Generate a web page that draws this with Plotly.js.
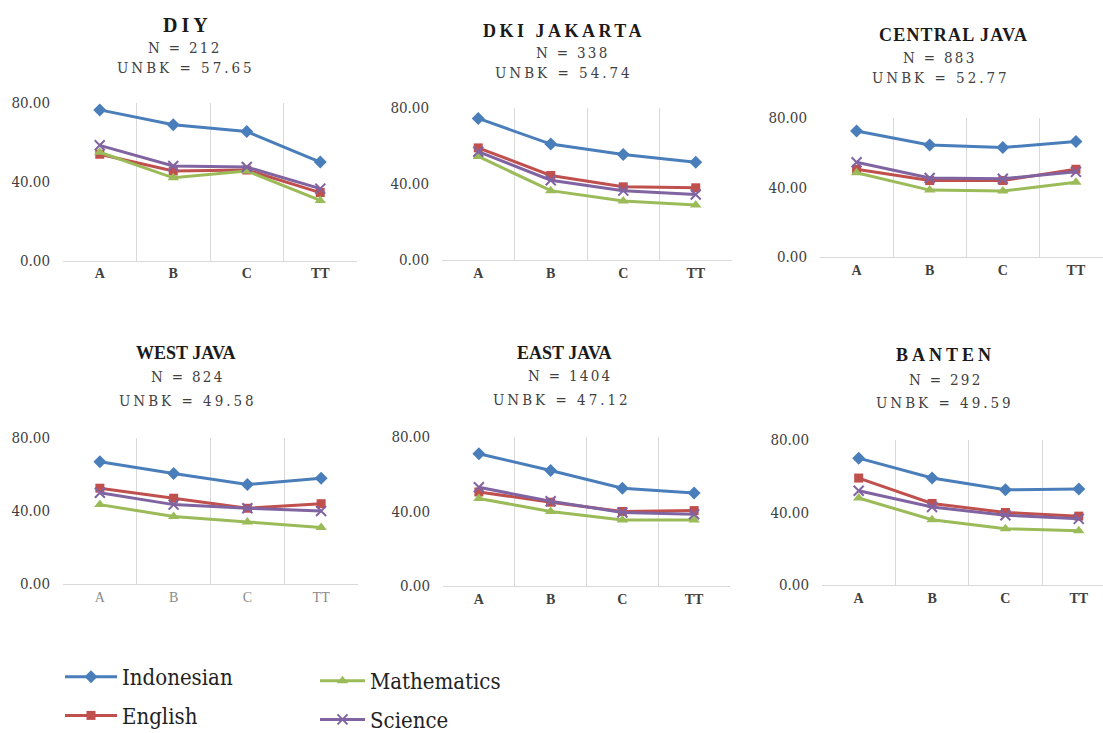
<!DOCTYPE html>
<html>
<head>
<meta charset="utf-8">
<script src="https://cdn.plot.ly/plotly-3.0.1.min.js"></script>
<style>
  html, body { margin: 0; padding: 0; background: #ffffff; }
  #chart { width: 1103px; height: 733px; }
</style>
</head>
<body>
<div id="chart"></div>
<script>
// ---------------- DATA ----------------
const categories = ['A', 'B', 'C', 'TT'];
const subjects = ['Indonesian', 'English', 'Mathematics', 'Science'];
const regions = ['DIY', 'DKI JAKARTA', 'CENTRAL JAVA', 'WEST JAVA', 'EAST JAVA', 'BANTEN'];
const sampleN = ['212', '338', '883', '824', '1404', '292'];
const unbkScore = ['57.65', '54.74', '52.77', '49.58', '47.12', '49.59'];
const yTickValues = [0, 40, 80];

// DIY
const diyIndonesian = [76.5, 69, 65.5, 50];
const diyEnglish    = [54, 45.5, 46, 34.5];
const diyMath       = [55, 42, 45.5, 30.5];
const diyScience    = [58.5, 48, 47.5, 36.5];
// DKI JAKARTA
const dkiIndonesian = [74.5, 61, 55.5, 51.5];
const dkiEnglish    = [59, 44.5, 38.5, 38];
const dkiMath       = [54.5, 36.5, 31, 29];
const dkiScience    = [57, 42, 36.5, 34.5];
// CENTRAL JAVA
const centralIndonesian = [72.5, 64.5, 63, 66.5];
const centralEnglish    = [50.5, 44, 44, 50.5];
const centralMath       = [48.5, 38.5, 38, 43];
const centralScience    = [54.5, 45.5, 45, 49];
// WEST JAVA
const westIndonesian = [67, 60.5, 54.5, 58];
const westEnglish    = [52.5, 47, 41.5, 44];
const westMath       = [43.5, 37, 34, 31];
const westScience    = [50, 43.5, 41.5, 40];
// EAST JAVA
const eastIndonesian = [71, 62, 52.5, 50];
const eastEnglish    = [50.5, 45, 40, 40.5];
const eastMath       = [47, 40, 35.5, 35.5];
const eastScience    = [53, 45.5, 39.5, 38.5];
// BANTEN
const bantenIndonesian = [70, 59, 52.5, 53];
const bantenEnglish    = [59, 45, 40, 38];
const bantenMath       = [48, 36, 31, 30];
const bantenScience    = [52, 43, 38.5, 36.5];

const regionSeries = [
  [diyIndonesian, diyEnglish, diyMath, diyScience],
  [dkiIndonesian, dkiEnglish, dkiMath, dkiScience],
  [centralIndonesian, centralEnglish, centralMath, centralScience],
  [westIndonesian, westEnglish, westMath, westScience],
  [eastIndonesian, eastEnglish, eastMath, eastScience],
  [bantenIndonesian, bantenEnglish, bantenMath, bantenScience]
];

// ---------------- STYLE / LAYOUT ----------------
const W = 1103, H = 733;
const px = x => x / W;
const py = y => 1 - y / H;

const SERIF_BOLD = "'Liberation Serif', 'Times New Roman', Times, serif";
const SERIF = "'DejaVu Serif Condensed', 'DejaVu Serif', serif";

const colors = ['#4a7ebb', '#c0504d', '#9bbb59', '#8064a2'];
const markers = [
  {symbol: 'diamond', size: 10},
  {symbol: 'square', size: 9},
  {symbol: 'triangle-up', size: 10},
  {symbol: 'x-thin-open', size: 10}
];
const legendNames = ['legend', 'legend', 'legend2', 'legend2'];

// plot-area pixel boxes: [left, right, y(0), y(80), xRangeMax]
const boxes = [
  [63, 357, 260.5, 103, 3.5],
  [442, 732, 260, 108, 3.5],
  [820, 1103, 257, 118, 3.37],
  [63, 358, 584, 438, 3.5],
  [443, 730, 586, 437, 3.5],
  [822, 1103, 585, 440, 3.33]
];

// [titleX, titleY, titleSize, titleSpacing, nX, nY, uX, uY]
const titlePos = [
  [187, 25, 20, 4, 185, 48, 186, 68],
  [564, 31, 18, 3.5, 573, 53, 564, 73],
  [953, 35, 18, 1.2, 940, 58, 941, 78],
  [186, 353, 18, 0, 188, 377, 188, 401],
  [564, 353, 18, 0, 570, 376, 562, 400],
  [945, 355, 18, 4, 946, 380, 945, 403]
];
const xTickStyle = [
  {color: '#404040', weight: 'bold'},
  {color: '#404040', weight: 'bold'},
  {color: '#404040', weight: 'bold'},
  {color: '#8a8a8a', weight: 'normal'},
  {color: '#404040', weight: 'bold'},
  {color: '#404040', weight: 'bold'}
];

const traces = [];
const layout = {
  width: W, height: H,
  margin: {l: 0, r: 0, t: 0, b: 0, autoexpand: false},
  paper_bgcolor: '#ffffff',
  plot_bgcolor: '#ffffff',
  font: {family: SERIF, color: '#333333'},
  showlegend: true,
  annotations: [],
  legend: {
    x: px(60), y: py(656), xanchor: 'left', yanchor: 'top',
    font: {family: SERIF, size: 22, color: '#222222'},
    bgcolor: 'rgba(0,0,0,0)', tracegroupgap: 7, traceorder: 'grouped',
    itemwidth: 52
  },
  legend2: {
    x: px(315), y: py(660), xanchor: 'left', yanchor: 'top',
    font: {family: SERIF, size: 22, color: '#222222'},
    bgcolor: 'rgba(0,0,0,0)', tracegroupgap: 7, traceorder: 'grouped',
    itemwidth: 45
  }
};

regions.forEach((region, r) => {
  const idx = r === 0 ? '' : String(r + 1);
  const b = boxes[r];
  layout['xaxis' + idx] = {
    domain: [px(b[0]), px(b[1])],
    anchor: 'y' + idx,
    type: 'category',
    categoryorder: 'array', categoryarray: categories,
    range: [-0.5, b[4]],
    tickson: 'boundaries',
    showgrid: true, gridcolor: '#d9d9d9', gridwidth: 1,
    showline: true, linecolor: '#d9d9d9', linewidth: 1,
    zeroline: false,
    ticks: 'outside', ticklen: 9, tickcolor: 'rgba(0,0,0,0)',
    tickfont: {family: SERIF_BOLD, size: 14, color: xTickStyle[r].color, weight: xTickStyle[r].weight},
    fixedrange: true
  };
  layout['yaxis' + idx] = {
    domain: [py(b[2]), py(b[3])],
    anchor: 'x' + idx,
    range: [0, 80],
    tickvals: yTickValues,
    tickformat: '.2f',
    showgrid: false, zeroline: false, showline: false,
    ticks: 'outside', ticklen: 9, tickcolor: 'rgba(0,0,0,0)',
    tickfont: {family: SERIF, size: 15, color: '#404040'},
    fixedrange: true
  };

  regionSeries[r].forEach((vals, s) => {
    const m = markers[s];
    const marker = {symbol: m.symbol, size: m.size, color: colors[s]};
    if (m.symbol.indexOf('x') === 0) marker.line = {color: colors[s], width: 2};
    traces.push({
      type: 'scatter', mode: 'lines+markers',
      x: categories, y: vals,
      xaxis: 'x' + idx, yaxis: 'y' + idx,
      name: subjects[s],
      legend: legendNames[s],
      legendgroup: subjects[s],
      showlegend: r === 0,
      line: {color: colors[s], width: 3},
      marker: marker,
      hoverinfo: 'name+y'
    });
  });

  const t = titlePos[r];
  layout.annotations.push({
    xref: 'paper', yref: 'paper', x: px(t[0]), y: py(t[1]),
    xanchor: 'center', yanchor: 'middle', showarrow: false,
    text: '<span style="letter-spacing:' + t[3] + 'px">' + region + '</span>',
    font: {family: SERIF_BOLD, size: t[2], color: '#1a1a1a', weight: 'bold'}
  });
  layout.annotations.push({
    xref: 'paper', yref: 'paper', x: px(t[4]), y: py(t[5]),
    xanchor: 'center', yanchor: 'middle', showarrow: false,
    text: '<span style="letter-spacing:2.3px">N = ' + sampleN[r] + '</span>',
    font: {family: SERIF, size: 15, color: '#404040'}
  });
  layout.annotations.push({
    xref: 'paper', yref: 'paper', x: px(t[6]), y: py(t[7]),
    xanchor: 'center', yanchor: 'middle', showarrow: false,
    text: '<span style="letter-spacing:3px">UNBK = ' + unbkScore[r] + '</span>',
    font: {family: SERIF, size: 15, color: '#404040'}
  });
});

Plotly.newPlot('chart', traces, layout, {displayModeBar: false, staticPlot: true});
</script>
</body>
</html>
